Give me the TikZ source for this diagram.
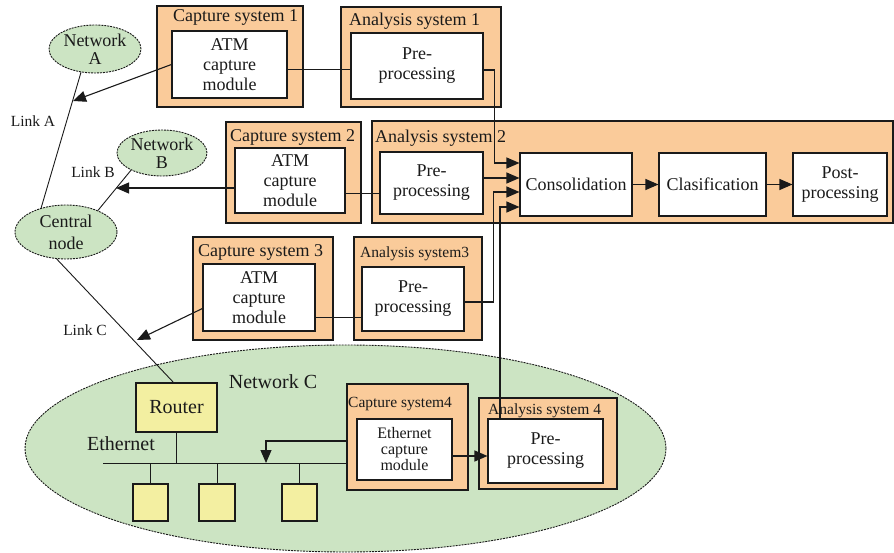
\documentclass[tikz,border=0pt]{standalone}
\usepackage{fontspec}
\setmainfont{Liberation Serif}
\usetikzlibrary{arrows.meta,positioning,shapes.geometric}
\definecolor{capInk}{HTML}{1A1A1A}
\definecolor{capPeach}{HTML}{FACB9A}
\definecolor{netGreen}{HTML}{CCE4C3}
\definecolor{hostYellow}{HTML}{F3EFA1}
\tikzset{
  every picture/.style={font=\rmfamily\fontsize{18}{20}\selectfont, text=capInk},
  cap frame/.style={draw=capInk, line width=1.1pt, fill=capPeach, inner sep=0pt},
  cap module/.style={draw=capInk, line width=1.1pt, fill=white, align=center, inner sep=0pt},
  cap title/.style={anchor=west, inner sep=0pt},
  cap small/.style={font=\rmfamily\fontsize{15.5}{17}\selectfont},
  net big/.style={font=\rmfamily\fontsize{20}{22}\selectfont},
  net cloud/.style={ellipse, draw=capInk, line width=0.9pt, dash pattern=on 2pt off 1pt,
    fill=netGreen, align=center, inner sep=0pt},
  net host/.style={draw=capInk, line width=1.1pt, fill=hostYellow, inner sep=0pt},
  cap link/.style={draw=capInk, line width=0.9pt},
  cap arrow/.style={-{Triangle[length=13pt,width=11pt]}, draw=capInk, line width=1.1pt}
}

\begin{document}
\begin{tikzpicture}[x=1pt,y=-1pt]
  \useasboundingbox (0,0) rectangle (894,553);
  % network C with its Ethernet segment
  \node[net cloud, minimum width=641pt, minimum height=207pt] (netC) at (345.5,448.5) {};
  \node[net big] (netClabel) at (273,382) {Network C};
  \node[net host, net big, minimum width=81pt, minimum height=49pt] (router) at (176.5,407.5) {Router};
  \node[net big] (ethlabel) at (121,444) {Ethernet};
  \node[net host, minimum width=35pt, minimum height=37pt] (host1) at (150.5,502.5) {};
  \node[net host, minimum width=36pt, minimum height=37pt] (host2) at (217,502.5) {};
  \node[net host, minimum width=35pt, minimum height=37pt] (host3) at (299.5,502.5) {};
  % outer networks
  \node[net cloud, minimum width=92pt, minimum height=48pt, font=\rmfamily\fontsize{18}{18}\selectfont] (netA) at (95,49) {Network\\A};
  \node[net cloud, minimum width=90pt, minimum height=46pt, font=\rmfamily\fontsize{18}{18}\selectfont] (netB) at (162,153) {Network\\B};
  \node[net cloud, minimum width=102pt, minimum height=54pt, font=\rmfamily\fontsize{18}{22}\selectfont] (central) at (66,232) {Central\\node};
  % capture and analysis systems
  \node[cap frame, minimum width=146pt, minimum height=101pt] (cap1) at (230,56.5) {};
  \node[cap title] (cap1title) at (173,17) {Capture system 1};
  \node[cap module, minimum width=115pt, minimum height=67pt] (mod1) at (229.5,64.5) {ATM\\capture\\module};
  \node[cap frame, minimum width=160pt, minimum height=100pt] (ana1) at (421,57) {};
  \node[cap title] (ana1title) at (349,21) {Analysis system 1};
  \node[cap module, minimum width=132pt, minimum height=66pt] (pre1) at (417,66) {Pre-\\processing};

  \node[cap frame, minimum width=135pt, minimum height=101pt] (cap2) at (293.5,172.5) {};
  \node[cap title] (cap2title) at (230,137) {Capture system 2};
  \node[cap module, minimum width=110pt, minimum height=65pt] (mod2) at (290,180.5) {ATM\\capture\\module};
  \node[cap frame, minimum width=521pt, minimum height=102pt] (ana2) at (632.5,172) {};
  \node[cap title] (ana2title) at (375,138) {Analysis system 2};
  \node[cap module, minimum width=103pt, minimum height=62pt] (pre2) at (431.5,183) {Pre-\\processing};
  \node[cap module, minimum width=112pt, minimum height=63pt] (cons) at (576,184.5) {Consolidation};
  \node[cap module, minimum width=107pt, minimum height=63pt] (clas) at (712.5,184.5) {Clasification};
  \node[cap module, minimum width=94pt, minimum height=63pt] (post) at (840,184.5) {Post-\\processing};

  \node[cap frame, minimum width=140pt, minimum height=103pt] (cap3) at (263,288.5) {};
  \node[cap title] (cap3title) at (198,252) {Capture system 3};
  \node[cap module, minimum width=112pt, minimum height=67pt] (mod3) at (259,297.5) {ATM\\capture\\module};
  \node[cap frame, minimum width=128pt, minimum height=103pt] (ana3) at (418,288.5) {};
  \node[cap title, cap small] (ana3title) at (360,254) {Analysis system3};
  \node[cap module, minimum width=102pt, minimum height=64pt] (pre3) at (413,299) {Pre-\\processing};

  \node[cap frame, minimum width=121pt, minimum height=106pt] (cap4) at (407.5,437) {};
  \node[cap title, cap small] (cap4title) at (348,404) {Capture system4};
  \node[cap module, minimum width=95pt, minimum height=61pt, font=\rmfamily\fontsize{16}{16}\selectfont] (mod4) at (404.5,449.5) {Ethernet\\capture\\module};
  \node[cap frame, minimum width=138pt, minimum height=91pt] (ana4) at (548,443.5) {};
  \node[cap title, cap small] (ana4title) at (488,411) {Analysis system 4};
  \node[cap module, minimum width=115pt, minimum height=64pt] (pre4) at (545.5,451) {Pre-\\processing};

  % links between the networks
  \draw[cap link] (netA.239) -- (central.136);
  \draw[cap link] (netB.209) -- (central.34);
  \draw[cap link] (central.251) -- ([xshift=-3pt]router.north);
  \node[cap small] (linkA) at (33,121) {Link A};
  \node[cap small] (linkB) at (93,172) {Link B};
  \node[cap small] (linkC) at (85,330) {Link C};
  \coordinate (tipA) at (73,101);
  \coordinate (tipB) at (116,188);
  \coordinate (tipC) at (137,340);
  \draw[cap arrow] (mod1.west) -- (tipA);
  \draw[cap arrow] (mod2.west |- tipB) -- (tipB);
  \draw[cap arrow] ([yshift=-11pt]mod3.west) -- (tipC);

  % Ethernet bus
  \coordinate (busL) at (103,463);
  \coordinate (busDrop) at (266,463);
  \draw[cap link] (busL) -- (busL -| cap4.west);
  \draw[cap link] (router.south) -- (router.south |- busL);
  \foreach \h in {host1,host2,host3}
    \draw[cap link] (\h.north) -- (\h.north |- busL);
  \draw[cap arrow] ([yshift=-4pt]cap4.west) -| (busDrop);

  % capture to analysis
  \coordinate (l1) at ([yshift=-5pt]mod1.east);
  \draw[cap link] (l1) -- (l1 -| pre1.west);
  \coordinate (l2) at ([yshift=-13pt]mod2.east);
  \draw[cap link] (l2) -- (l2 -| pre2.west);
  \coordinate (l3) at ([yshift=-20pt]mod3.east);
  \draw[cap link] (l3) -- (l3 -| pre3.west);
  \draw[cap arrow] ([yshift=-6.5pt]mod4.east) -- ([yshift=-6.5pt]mod4.east -| pre4.west);

  % into consolidation
  \coordinate (in1) at ([yshift=21.5pt]cons.west);
  \coordinate (in2) at ([yshift=6.5pt]cons.west);
  \coordinate (in3) at ([yshift=-7.5pt]cons.west);
  \coordinate (in4) at ([yshift=-22.5pt]cons.west);
  \draw[cap arrow] ([yshift=-4pt]pre1.east) -- ++(11,0) |- (in1);
  \draw[cap arrow] (pre2.east |- in2) -- (in2);
  \draw[cap arrow] ([yshift=-3pt]pre3.east) -- ++(29,0) |- (in3);
  \draw[cap arrow] ([xshift=-45.5pt]pre4.north) |- (in4);
  \draw[cap arrow] (cons) -- (clas);
  \draw[cap arrow] (clas) -- (post);
\end{tikzpicture}
\end{document}
